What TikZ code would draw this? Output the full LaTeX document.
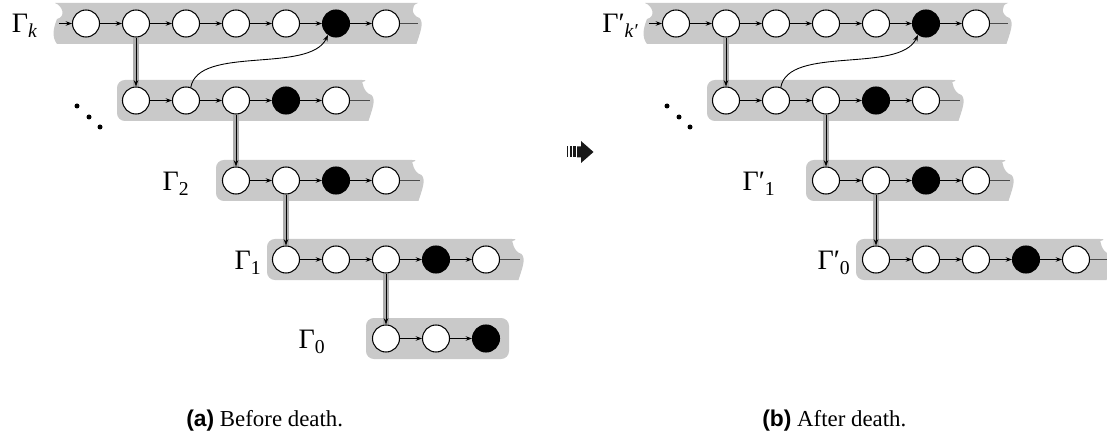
\documentclass[tikz,border=0pt]{standalone}
\usepackage{fontspec}
\setmainfont{Liberation Serif}
\setsansfont{Liberation Sans}
\usetikzlibrary{arrows.meta}

\begin{document}
\begin{tikzpicture}
    \tikzset{
        every node/.style={font=\fontsize{16}{18}\selectfont},
        vtx/.style={circle, draw, fill=white, line width=0.6pt, minimum size=0.54cm, inner sep=0pt},
        dead/.style={vtx, fill=black},
        band/.style={fill=gray!42},
        link/.style={->, >={Stealth[length=3.6pt, width=2.6pt]}, line width=0.5pt},
        drop/.style={link, preaction={draw=gray!65, line width=3.2pt, arrows=-}},
        tail/.style={draw=black!70, line width=0.5pt},
        lbl/.style={anchor=east, inner sep=0pt},
        caption/.style={anchor=west, inner sep=0pt, font=\fontsize{13}{15}\selectfont}
    }
    \useasboundingbox (0,0) rectangle (22.14,-8.84);

    % 1. grey bands, left picture (a)
    \fill[band] (1.14,-0.88) .. controls +(-0.12,0.15) and +(-0.06,-0.15) .. (1.14,-0.38)
        .. controls +(0.18,0.04) and +(0.16,-0.06) .. (1.1,-0.06) -- (8.36,-0.06)
        .. controls +(-0.15,-0.04) and +(-0.17,0.05) .. (8.39,-0.36)
        .. controls +(0.1,-0.1) and +(0.06,0.2) .. (8.33,-0.88) -- cycle;
    \fill[band] (7.4,-1.6) .. controls +(-0.15,-0.04) and +(-0.17,0.05) .. (7.43,-1.9)
        .. controls +(0.1,-0.1) and +(0.06,0.2) .. (7.37,-2.42)
        [rounded corners=4.5pt] -- (2.34,-2.42) -- (2.34,-1.6) -- cycle;
    \fill[band] (8.4,-3.2) .. controls +(-0.15,-0.04) and +(-0.17,0.05) .. (8.43,-3.5)
        .. controls +(0.1,-0.1) and +(0.06,0.2) .. (8.37,-4.02)
        [rounded corners=4.5pt] -- (4.32,-4.02) -- (4.32,-3.2) -- cycle;
    \fill[band] (10.4,-4.78) .. controls +(-0.15,-0.04) and +(-0.17,0.05) .. (10.43,-5.08)
        .. controls +(0.1,-0.1) and +(0.06,0.2) .. (10.37,-5.6)
        [rounded corners=4.5pt] -- (5.34,-5.6) -- (5.34,-4.78) -- cycle;
    \fill[band, rounded corners=4.5pt] (7.32,-6.36) rectangle (10.18,-7.18);

    % grey bands, right picture (b)
    \fill[band] (12.94,-0.88) .. controls +(-0.12,0.15) and +(-0.06,-0.15) .. (12.94,-0.38)
        .. controls +(0.18,0.04) and +(0.16,-0.06) .. (12.9,-0.06) -- (20.16,-0.06)
        .. controls +(-0.15,-0.04) and +(-0.17,0.05) .. (20.19,-0.36)
        .. controls +(0.1,-0.1) and +(0.06,0.2) .. (20.13,-0.88) -- cycle;
    \fill[band] (19.2,-1.6) .. controls +(-0.15,-0.04) and +(-0.17,0.05) .. (19.23,-1.9)
        .. controls +(0.1,-0.1) and +(0.06,0.2) .. (19.17,-2.42)
        [rounded corners=4.5pt] -- (14.14,-2.42) -- (14.14,-1.6) -- cycle;
    \fill[band] (20.2,-3.2) .. controls +(-0.15,-0.04) and +(-0.17,0.05) .. (20.23,-3.5)
        .. controls +(0.1,-0.1) and +(0.06,0.2) .. (20.17,-4.02)
        [rounded corners=4.5pt] -- (16.12,-4.02) -- (16.12,-3.2) -- cycle;
    \fill[band] (22.16,-4.78) .. controls +(-0.15,-0.04) and +(-0.17,0.05) .. (22.19,-5.08)
        .. controls +(0.1,-0.1) and +(0.06,0.2) .. (22.13,-5.6)
        [rounded corners=4.5pt] -- (17.12,-5.6) -- (17.12,-4.78) -- cycle;

    % 2. the dots between the top rows
    \fill (1.54,-2.12) circle (0.05); \fill (1.78,-2.34) circle (0.05); \fill (2.0,-2.54) circle (0.05);
    \fill (13.34,-2.12) circle (0.05); \fill (13.58,-2.34) circle (0.05); \fill (13.8,-2.54) circle (0.05);

    % 3. vertices of (a)
    % row Gamma_k
    \node[vtx] (K0) at (1.72,-0.47) {};  \node[vtx] (K1) at (2.72,-0.47) {};
    \node[vtx] (K2) at (3.72,-0.47) {};  \node[vtx] (K3) at (4.72,-0.47) {};
    \node[vtx] (K4) at (5.72,-0.47) {};  \node[dead] (K5) at (6.72,-0.47) {};
    \node[vtx] (K6) at (7.72,-0.47) {};
    % row under it
    \node[vtx] (D1) at (2.72,-2.01) {};  \node[vtx] (D2) at (3.72,-2.01) {};
    \node[vtx] (D3) at (4.72,-2.01) {};  \node[dead] (D4) at (5.72,-2.01) {};
    \node[vtx] (D5) at (6.72,-2.01) {};
    % row Gamma_2
    \node[vtx] (T3) at (4.72,-3.61) {};  \node[vtx] (T4) at (5.72,-3.61) {};
    \node[dead] (T5) at (6.72,-3.61) {}; \node[vtx] (T6) at (7.72,-3.61) {};
    % row Gamma_1
    \node[vtx] (O4) at (5.72,-5.19) {};  \node[vtx] (O5) at (6.72,-5.19) {};
    \node[vtx] (O6) at (7.72,-5.19) {};  \node[dead] (O7) at (8.72,-5.19) {};
    \node[vtx] (O8) at (9.72,-5.19) {};
    % row Gamma_0
    \node[vtx] (Z6) at (7.72,-6.77) {};  \node[vtx] (Z7) at (8.72,-6.77) {};
    \node[dead] (Z8) at (9.72,-6.77) {};

    % vertices of (b)
    \node[vtx] (RK0) at (13.52,-0.47) {};  \node[vtx] (RK1) at (14.52,-0.47) {};
    \node[vtx] (RK2) at (15.52,-0.47) {};  \node[vtx] (RK3) at (16.52,-0.47) {};
    \node[vtx] (RK4) at (17.52,-0.47) {};  \node[dead] (RK5) at (18.52,-0.47) {};
    \node[vtx] (RK6) at (19.52,-0.47) {};
    \node[vtx] (RD1) at (14.52,-2.01) {};  \node[vtx] (RD2) at (15.52,-2.01) {};
    \node[vtx] (RD3) at (16.52,-2.01) {};  \node[dead] (RD4) at (17.52,-2.01) {};
    \node[vtx] (RD5) at (18.52,-2.01) {};
    \node[vtx] (RT3) at (16.52,-3.61) {};  \node[vtx] (RT4) at (17.52,-3.61) {};
    \node[dead] (RT5) at (18.52,-3.61) {}; \node[vtx] (RT6) at (19.52,-3.61) {};
    \node[vtx] (RO4) at (17.52,-5.19) {};  \node[vtx] (RO5) at (18.52,-5.19) {};
    \node[vtx] (RO6) at (19.52,-5.19) {};  \node[dead] (RO7) at (20.52,-5.19) {};
    \node[vtx] (RO8) at (21.52,-5.19) {};

    % free ends of the chains
    \coordinate (KIn) at (1.18,-0.47);    \coordinate (RKIn) at (12.98,-0.47);
    \coordinate (KOut) at (8.36,-0.47);   \coordinate (RKOut) at (20.16,-0.47);
    \coordinate (DOut) at (7.4,-2.01);    \coordinate (RDOut) at (19.2,-2.01);
    \coordinate (TOut) at (8.4,-3.61);    \coordinate (RTOut) at (20.2,-3.61);
    \coordinate (OOut) at (10.4,-5.19);   \coordinate (ROOut) at (22.16,-5.19);

    % 4. chains of (a)
    \draw[link] (KIn) -- (K0); \draw[link] (K0) -- (K1); \draw[link] (K1) -- (K2);
    \draw[link] (K2) -- (K3); \draw[link] (K3) -- (K4); \draw[link] (K4) -- (K5);
    \draw[link] (K5) -- (K6); \draw[tail] (K6) -- (KOut);
    \draw[link] (D1) -- (D2); \draw[link] (D2) -- (D3); \draw[link] (D3) -- (D4);
    \draw[link] (D4) -- (D5); \draw[tail] (D5) -- (DOut);
    \draw[link] (T3) -- (T4); \draw[link] (T4) -- (T5); \draw[link] (T5) -- (T6);
    \draw[tail] (T6) -- (TOut);
    \draw[link] (O4) -- (O5); \draw[link] (O5) -- (O6); \draw[link] (O6) -- (O7);
    \draw[link] (O7) -- (O8); \draw[tail] (O8) -- (OOut);
    \draw[link] (Z6) -- (Z7); \draw[link] (Z7) -- (Z8);

    % chains of (b)
    \draw[link] (RKIn) -- (RK0); \draw[link] (RK0) -- (RK1); \draw[link] (RK1) -- (RK2);
    \draw[link] (RK2) -- (RK3); \draw[link] (RK3) -- (RK4); \draw[link] (RK4) -- (RK5);
    \draw[link] (RK5) -- (RK6); \draw[tail] (RK6) -- (RKOut);
    \draw[link] (RD1) -- (RD2); \draw[link] (RD2) -- (RD3); \draw[link] (RD3) -- (RD4);
    \draw[link] (RD4) -- (RD5); \draw[tail] (RD5) -- (RDOut);
    \draw[link] (RT3) -- (RT4); \draw[link] (RT4) -- (RT5); \draw[link] (RT5) -- (RT6);
    \draw[tail] (RT6) -- (RTOut);
    \draw[link] (RO4) -- (RO5); \draw[link] (RO5) -- (RO6); \draw[link] (RO6) -- (RO7);
    \draw[link] (RO7) -- (RO8); \draw[tail] (RO8) -- (ROOut);

    % 5. drops between rows and the jump to the black vertex
    \draw[drop] (K1) -- (D1);  \draw[drop] (D3) -- (T3);
    \draw[drop] (T4) -- (O4);  \draw[drop] (O6) -- (Z6);
    \draw[link] (D2.70) to[out=80, in=-115, looseness=0.75] (K5.235);
    \draw[drop] (RK1) -- (RD1);  \draw[drop] (RD3) -- (RT3);
    \draw[drop] (RT4) -- (RO4);
    \draw[link] (RD2.70) to[out=80, in=-115, looseness=0.75] (RK5.235);

    % 6. striped arrow between (a) and (b)
    \fill[black!90] (11.33,-2.93) rectangle (11.36,-3.15);
    \fill[black!90] (11.39,-2.93) rectangle (11.43,-3.15);
    \fill[black!90] (11.46,-2.93) rectangle (11.51,-3.15);
    \fill[black!90] (11.54,-2.93) -- (11.62,-2.93) -- (11.62,-2.82) -- (11.87,-3.04)
        -- (11.62,-3.26) -- (11.62,-3.15) -- (11.54,-3.15) -- cycle;

    % 7. labels
    \node[lbl] (LabK) at (0.76,-0.52) {Γ\textsubscript{\itshape k}};
    \node[lbl] (LabT) at (3.8,-3.68) {Γ\textsubscript{2}};
    \node[lbl] (LabO) at (5.24,-5.26) {Γ\textsubscript{1}};
    \node[lbl] (LabZ) at (6.52,-6.84) {Γ\textsubscript{0}};
    \node[lbl] (RLabK) at (12.78,-0.52) {Γ′\textsubscript{\itshape k′}};
    \node[lbl] (RLabT) at (15.52,-3.68) {Γ′\textsubscript{1}};
    \node[lbl] (RLabO) at (17.02,-5.26) {Γ′\textsubscript{0}};

    \node[caption] (CapA) at (3.72,-8.42) {\textsf{\bfseries (a)} Before death.};
    \node[caption] (CapB) at (15.24,-8.42) {\textsf{\bfseries (b)} After death.};
\end{tikzpicture}
\end{document}
